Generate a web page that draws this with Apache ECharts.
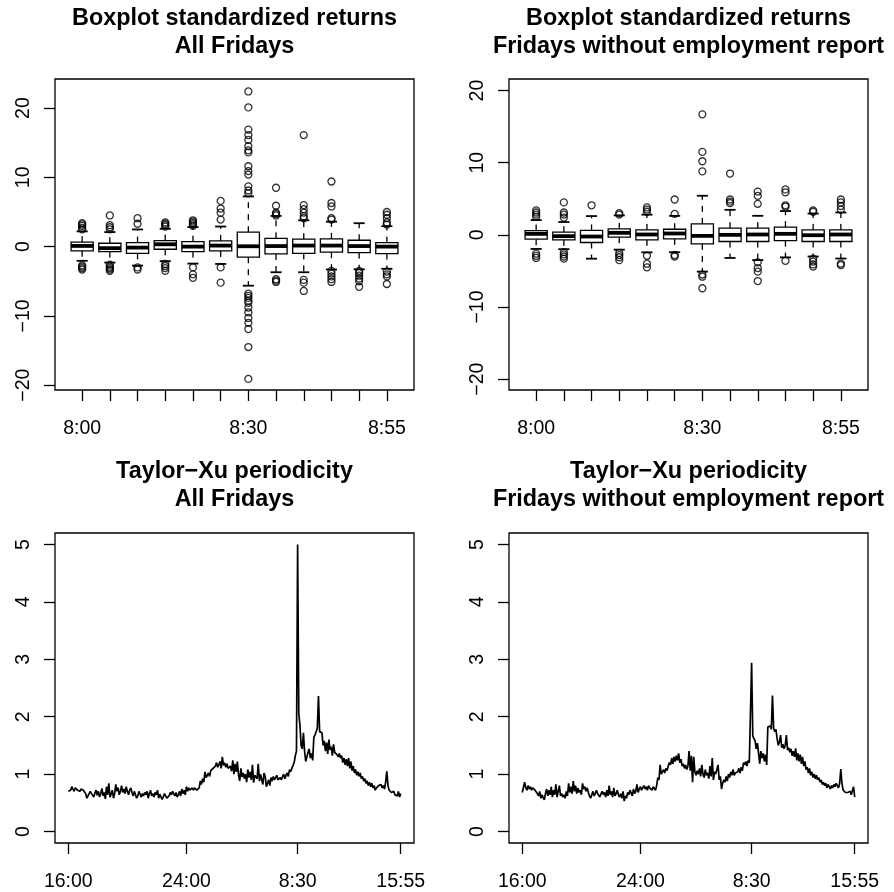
<!DOCTYPE html>
<html><head><meta charset="utf-8">
<script src="https://cdn.jsdelivr.net/npm/echarts@6/dist/echarts.min.js"></script>
<style>html,body{margin:0;padding:0;background:#fff}#c{width:894px;height:892px}</style>
</head><body><div id="c"></div>
<script>
const FONT = 'Liberation Sans, Arial, Helvetica, sans-serif';

// ---- Boxplot panels ----
const boxTimes = ['8:00','8:05','8:10','8:15','8:20','8:25','8:30','8:35','8:40','8:45','8:50','8:55'];
const boxLabelIdx = [0, 6, 11];
const boxYTicks = [-20, -10, 0, 10, 20];

// [lower whisker, Q1, median, Q3, upper whisker]
const allStats = [
  [-2.05, -0.60, 0.10, 0.64, 2.20],
  [-2.30, -0.72, -0.22, 0.49, 2.10],
  [-2.74, -0.97, -0.14, 0.58, 2.48],
  [-2.10, -0.38, 0.34, 0.87, 2.58],
  [-2.45, -0.72, 0.00, 0.72, 2.82],
  [-2.50, -0.62, 0.15, 0.82, 2.90],
  [-5.64, -1.53, 0.05, 2.08, 7.25],
  [-3.70, -1.06, 0.08, 1.20, 4.43],
  [-3.70, -0.97, 0.15, 1.08, 3.80],
  [-3.30, -0.80, 0.15, 1.11, 3.60],
  [-3.27, -0.87, 0.08, 0.92, 3.38],
  [-3.20, -1.00, 0.00, 0.58, 2.95]
];
const allOut = [
  [3.4, 3.2, 3.0, 2.7, 2.5, -2.7, -2.9, -3.1, -3.3],
  [4.5, 3.1, 2.8, 2.5, -2.6, -2.9, -3.1, -3.3, -3.5],
  [4.1, 3.3, -3.0, -3.3],
  [3.5, 3.3, 3.1, 2.9, -2.5, -2.8, -3.1, -3.5],
  [3.8, 3.6, 3.4, 3.2, 3.0, -3.0, -4.0, -4.5],
  [6.6, 5.5, 4.9, 3.9, -3.0, -5.2],
  [22.4, 20.1, 16.9, 16.1, 15.4, 14.5, 13.9, 13.6, 11.6, 10.9, 10.4, 8.7, 8.1, 7.7,
   -6.8, -7.1, -7.4, -7.8, -8.1, -8.8, -9.5, -10.3, -11.0, -11.9, -14.5, -19.1],
  [8.5, 5.9, 4.9, 4.7, 4.5, -4.7, -4.9, -5.1],
  [16.1, 6.0, 5.4, 4.9, 4.4, 4.1, -4.8, -5.2, -6.4],
  [9.4, 6.3, 5.8, 4.1, 3.9, -3.5, -3.9, -4.3, -4.7, -5.1],
  [-3.5, -3.8, -4.2, -4.6, -5.0, -5.8],
  [5.0, 4.6, 4.1, 3.5, 3.2, -3.6, -4.0, -4.3, -5.4]
];
const noEmpStats = [
  [-1.95, -0.60, 0.14, 0.60, 2.05],
  [-1.98, -0.69, -0.18, 0.37, 1.78],
  [-3.30, -1.06, -0.23, 0.62, 2.60],
  [-2.05, -0.32, 0.28, 0.83, 2.70],
  [-2.42, -0.69, 0.05, 0.69, 2.80],
  [-2.40, -0.55, 0.19, 0.78, 2.63],
  [-5.09, -1.25, -0.14, 1.53, 5.42],
  [-3.20, -0.92, 0.00, 0.93, 3.47],
  [-3.50, -0.92, 0.05, 0.93, 2.64],
  [-3.12, -0.79, 0.14, 1.06, 3.30],
  [-3.00, -0.92, -0.05, 0.69, 2.95],
  [-3.28, -0.92, 0.05, 0.69, 3.10]
];
const noEmpOut = [
  [3.4, 3.1, 2.8, 2.5, -2.6, -2.9, -3.2],
  [4.5, 3.1, 2.8, 2.4, -2.4, -2.7, -3.0, -3.3],
  [4.1],
  [3.0, 2.8, -2.5, -2.8, -3.1, -3.5],
  [3.8, 3.5, 3.2, -2.9, -4.0, -4.5],
  [4.9, 2.9, -2.8, -3.0],
  [16.7, 11.5, 10.2, 8.8, -5.5, -5.8, -7.4],
  [8.5, 4.9, 4.6, 4.4],
  [6.0, 5.4, 4.3, -3.8, -4.6, -5.1, -6.4],
  [6.3, 5.9, 4.1, 3.9, -3.6],
  [3.4, 3.2, -3.3, -3.7, -4.1, -4.4],
  [4.9, 4.5, 4.0, 3.5, -4.0, -4.2]
];

// ---- Taylor-Xu periodicity panels ----
const lineTickPos = [1, 103, 199, 288];
const lineTickLabels = ['16:00', '24:00', '8:30', '15:55'];
const lineYTicks = [0, 1, 2, 3, 4, 5];
const allTX = [
0.70,0.70,0.72,0.78,0.74,0.70,0.76,0.73,0.72,0.75,0.70,0.74,
0.76,0.72,0.74,0.66,0.58,0.62,0.64,0.70,0.66,0.63,0.60,0.67,
0.72,0.63,0.70,0.60,0.66,0.75,0.62,0.68,0.57,0.78,0.64,0.84,
0.60,0.65,0.72,0.58,0.66,0.82,0.70,0.76,0.64,0.70,0.80,0.68,
0.74,0.66,0.78,0.70,0.64,0.72,0.76,0.68,0.62,0.70,0.64,0.58,
0.62,0.70,0.65,0.60,0.66,0.62,0.68,0.64,0.70,0.58,0.66,0.72,
0.62,0.66,0.60,0.68,0.64,0.72,0.58,0.65,0.62,0.56,0.60,0.66,
0.62,0.58,0.55,0.62,0.68,0.64,0.70,0.66,0.62,0.68,0.60,0.64,
0.70,0.62,0.74,0.66,0.72,0.64,0.78,0.70,0.76,0.72,0.74,0.76,
0.72,0.76,0.74,0.72,0.70,0.76,0.88,0.82,0.92,0.86,1.04,0.94,
0.98,1.02,0.96,1.06,1.04,1.10,1.08,1.14,1.20,1.12,1.16,1.22,
1.10,1.30,1.15,1.20,1.12,1.18,1.10,1.08,1.14,1.05,1.24,1.00,
1.18,1.04,1.22,0.98,0.88,1.10,0.95,1.02,0.92,1.00,0.86,1.08,
0.94,1.04,0.90,1.16,0.85,0.98,1.00,0.92,1.18,0.88,1.00,0.98,
0.82,1.02,0.96,0.78,0.84,0.90,0.80,0.94,0.88,0.96,0.90,0.92,
0.98,0.90,0.92,0.94,0.90,0.96,1.00,0.92,0.98,1.02,0.96,1.08,
1.04,1.10,1.12,1.20,1.32,1.40,5.00,2.06,1.85,1.50,1.44,1.72,
1.40,1.22,1.30,1.38,1.44,1.28,1.36,1.24,1.64,1.68,1.66,1.80,
2.36,1.74,1.76,1.72,1.50,1.58,1.40,1.55,1.35,1.60,1.42,1.48,
1.32,1.52,1.38,1.40,1.34,1.30,1.36,1.28,1.32,1.20,1.28,1.16,
1.26,1.14,1.28,1.10,1.22,1.06,1.14,1.02,1.08,0.98,1.04,0.96,
1.02,0.92,0.96,0.88,0.92,0.84,0.88,0.80,0.86,0.78,0.84,0.76,
0.80,0.72,0.76,0.74,0.80,0.78,0.82,0.76,0.80,0.74,0.86,1.05,
0.80,0.72,0.70,0.68,0.66,0.70,0.64,0.66,0.62,0.70,0.60,0.66
];
const noEmpTX = [
0.68,0.70,0.86,0.76,0.72,0.80,0.74,0.78,0.72,0.76,0.74,0.72,
0.70,0.66,0.62,0.70,0.58,0.64,0.62,0.55,0.66,0.74,0.62,0.72,
0.64,0.78,0.60,0.72,0.64,0.82,0.60,0.70,0.80,0.62,0.66,0.60,
0.64,0.58,0.70,0.62,0.84,0.68,0.78,0.66,0.88,0.70,0.80,0.66,
0.76,0.68,0.72,0.64,0.84,0.74,0.78,0.70,0.76,0.68,0.62,0.58,
0.64,0.70,0.62,0.66,0.72,0.66,0.68,0.60,0.66,0.70,0.64,0.68,
0.60,0.72,0.62,0.80,0.64,0.70,0.60,0.76,0.62,0.66,0.72,0.64,
0.60,0.66,0.58,0.70,0.53,0.62,0.58,0.68,0.64,0.72,0.70,0.62,
0.74,0.66,0.70,0.82,0.68,0.74,0.78,0.72,0.76,0.80,0.74,0.78,
0.72,0.80,0.76,0.74,0.72,0.78,0.76,0.72,0.80,0.94,0.90,1.16,
1.00,1.04,1.08,1.02,1.10,1.06,1.14,1.20,1.16,1.28,1.18,1.30,
1.22,1.32,1.24,1.36,1.20,1.26,1.14,1.18,1.10,1.16,1.08,1.14,
1.40,1.06,1.32,0.86,1.30,1.04,0.98,1.06,1.00,1.10,0.96,1.16,
1.00,0.94,1.08,0.98,1.02,0.92,1.14,0.96,1.28,0.90,1.04,1.00,
1.02,1.16,0.90,0.96,0.74,0.84,0.90,0.86,0.96,0.88,1.00,0.94,
1.04,0.98,1.08,0.98,1.02,1.00,1.04,1.10,1.02,1.12,1.06,1.20,
1.16,1.22,1.14,1.24,1.20,1.22,2.94,1.66,1.64,1.58,1.44,1.54,
1.36,1.18,1.40,1.28,1.36,1.22,1.34,1.16,1.82,1.80,1.84,1.78,
2.37,1.80,1.74,1.78,1.62,1.50,1.56,1.68,1.46,1.52,1.44,1.50,
1.68,1.42,1.46,1.38,1.44,1.32,1.40,1.30,1.45,1.24,1.36,1.22,
1.34,1.18,1.30,1.14,1.22,1.08,1.12,1.02,1.10,0.98,1.04,0.94,
1.00,0.92,0.98,0.90,0.94,0.86,0.90,0.82,0.86,0.80,0.84,0.76,
0.82,0.78,0.74,0.80,0.76,0.82,0.78,0.84,0.80,0.76,0.84,1.09,
0.84,0.72,0.70,0.68,0.70,0.68,0.66,0.70,0.64,0.66,0.78,0.60
];

// ---- build chart ----
const chart = echarts.init(document.getElementById('c'), null, {renderer: 'canvas'});
const black = '#000';
const minus = v => String(v).replace('-', '\u2212');

const grids = [
  {left: 55, top: 79, width: 359, height: 311},
  {left: 509, top: 79, width: 359, height: 311},
  {left: 55, top: 533, width: 359, height: 311},
  {left: 509, top: 533, width: 359, height: 311}
].map(g => Object.assign(g, {show: true, borderColor: black, borderWidth: 1.3, backgroundColor: 'transparent'}));

const tickStyle = {color: black, width: 1.3};
const labelStyle = {color: black, fontSize: 19.5, fontFamily: FONT};

function xAxisBox(gi) {
  return {type: 'value', gridIndex: gi, position: 'bottom', min: -0.98, max: 11.98,
    axisLine: {show: false, onZero: false}, splitLine: {show: false},
    axisTick: {show: true, inside: false, length: 11, customValues: boxTimes.map((_, i) => i), lineStyle: tickStyle},
    axisLabel: Object.assign({customValues: boxLabelIdx, margin: 29, formatter: v => boxTimes[Math.round(v)]}, labelStyle)};
}
function xAxisLine(gi) {
  return {type: 'value', gridIndex: gi, position: 'bottom', min: -10.48, max: 299.48,
    axisLine: {show: false, onZero: false}, splitLine: {show: false},
    axisTick: {show: true, inside: false, length: 11, customValues: lineTickPos, lineStyle: tickStyle},
    axisLabel: Object.assign({customValues: lineTickPos, margin: 29,
      formatter: v => lineTickLabels[lineTickPos.indexOf(Math.round(v))]}, labelStyle)};
}
function yAxis(gi, min, max, ticks) {
  return {type: 'value', gridIndex: gi, position: 'left', min: min, max: max,
    axisLine: {show: false, onZero: false}, splitLine: {show: false},
    axisTick: {show: true, inside: false, length: 11, customValues: ticks, lineStyle: tickStyle},
    axisLabel: Object.assign({customValues: ticks, rotate: 90, margin: 21, formatter: minus}, labelStyle)};
}

function boxRender(params, api) {
  const x = api.value(0);
  const c = api.coord([x, api.value(3)]);
  const cx = c[0];
  const yLo = api.coord([x, api.value(1)])[1];
  const yQ1 = api.coord([x, api.value(2)])[1];
  const yMd = c[1];
  const yQ3 = api.coord([x, api.value(4)])[1];
  const yHi = api.coord([x, api.value(5)])[1];
  const w = api.size([0.8, 0])[0];
  const sw = api.size([0.4, 0])[0];
  const dash = {stroke: black, lineWidth: 1.3, lineDash: [6, 6]};
  return {type: 'group', children: [
    {type: 'line', shape: {x1: cx, y1: yQ3, x2: cx, y2: yHi}, style: dash},
    {type: 'line', shape: {x1: cx, y1: yQ1, x2: cx, y2: yLo}, style: dash},
    {type: 'line', shape: {x1: cx - sw / 2, y1: yHi, x2: cx + sw / 2, y2: yHi}, style: {stroke: black, lineWidth: 1.8}},
    {type: 'line', shape: {x1: cx - sw / 2, y1: yLo, x2: cx + sw / 2, y2: yLo}, style: {stroke: black, lineWidth: 1.8}},
    {type: 'rect', shape: {x: cx - w / 2, y: yQ3, width: w, height: yQ1 - yQ3}, style: {fill: '#fff', stroke: black, lineWidth: 1.3}},
    {type: 'line', shape: {x1: cx - w / 2, y1: yMd, x2: cx + w / 2, y2: yMd}, style: {stroke: black, lineWidth: 3.8}}
  ]};
}
function boxSeries(stats, gi) {
  return {type: 'custom', xAxisIndex: gi, yAxisIndex: gi, renderItem: boxRender,
    data: stats.map((s, i) => [i].concat(s)), encode: {x: 0, y: [1, 2, 3, 4, 5]}, z: 2};
}
function outSeries(outs, gi) {
  const d = [];
  outs.forEach((arr, i) => arr.forEach(v => d.push([i, v])));
  return {type: 'scatter', xAxisIndex: gi, yAxisIndex: gi, data: d, symbol: 'circle', symbolSize: 7,
    itemStyle: {color: 'rgba(0,0,0,0)', borderColor: black, borderWidth: 1.3}, z: 3};
}
function lineSeries(vals, gi) {
  return {type: 'line', xAxisIndex: gi, yAxisIndex: gi, data: vals.map((v, i) => [i + 1, v]),
    showSymbol: false, symbol: 'none', lineStyle: {color: black, width: 1.7}, z: 2};
}

const titleStyle = {color: black, fontSize: 23.4, fontWeight: 'bold', fontFamily: FONT, lineHeight: 28};
function title(text, cx, top) {
  return {text: text, left: cx, top: top, textAlign: 'center', padding: 0, textStyle: titleStyle};
}

chart.setOption({
  animation: false,
  backgroundColor: '#fff',
  title: [
    title('Boxplot standardized returns\nAll Fridays', 234.5, 5),
    title('Boxplot standardized returns\nFridays without employment report', 688.5, 5),
    title('Taylor\u2212Xu periodicity\nAll Fridays', 234.5, 458),
    title('Taylor\u2212Xu periodicity\nFridays without employment report', 688.5, 458)
  ],
  grid: grids,
  xAxis: [xAxisBox(0), xAxisBox(1), xAxisLine(2), xAxisLine(3)],
  yAxis: [
    yAxis(0, -20.7, 24.2, boxYTicks),
    yAxis(1, -21.5, 21.6, boxYTicks),
    yAxis(2, -0.2, 5.2, lineYTicks),
    yAxis(3, -0.2, 5.2, lineYTicks)
  ],
  series: [
    boxSeries(allStats, 0), outSeries(allOut, 0),
    boxSeries(noEmpStats, 1), outSeries(noEmpOut, 1),
    lineSeries(allTX, 2), lineSeries(noEmpTX, 3)
  ]
});
</script>
</body></html>
